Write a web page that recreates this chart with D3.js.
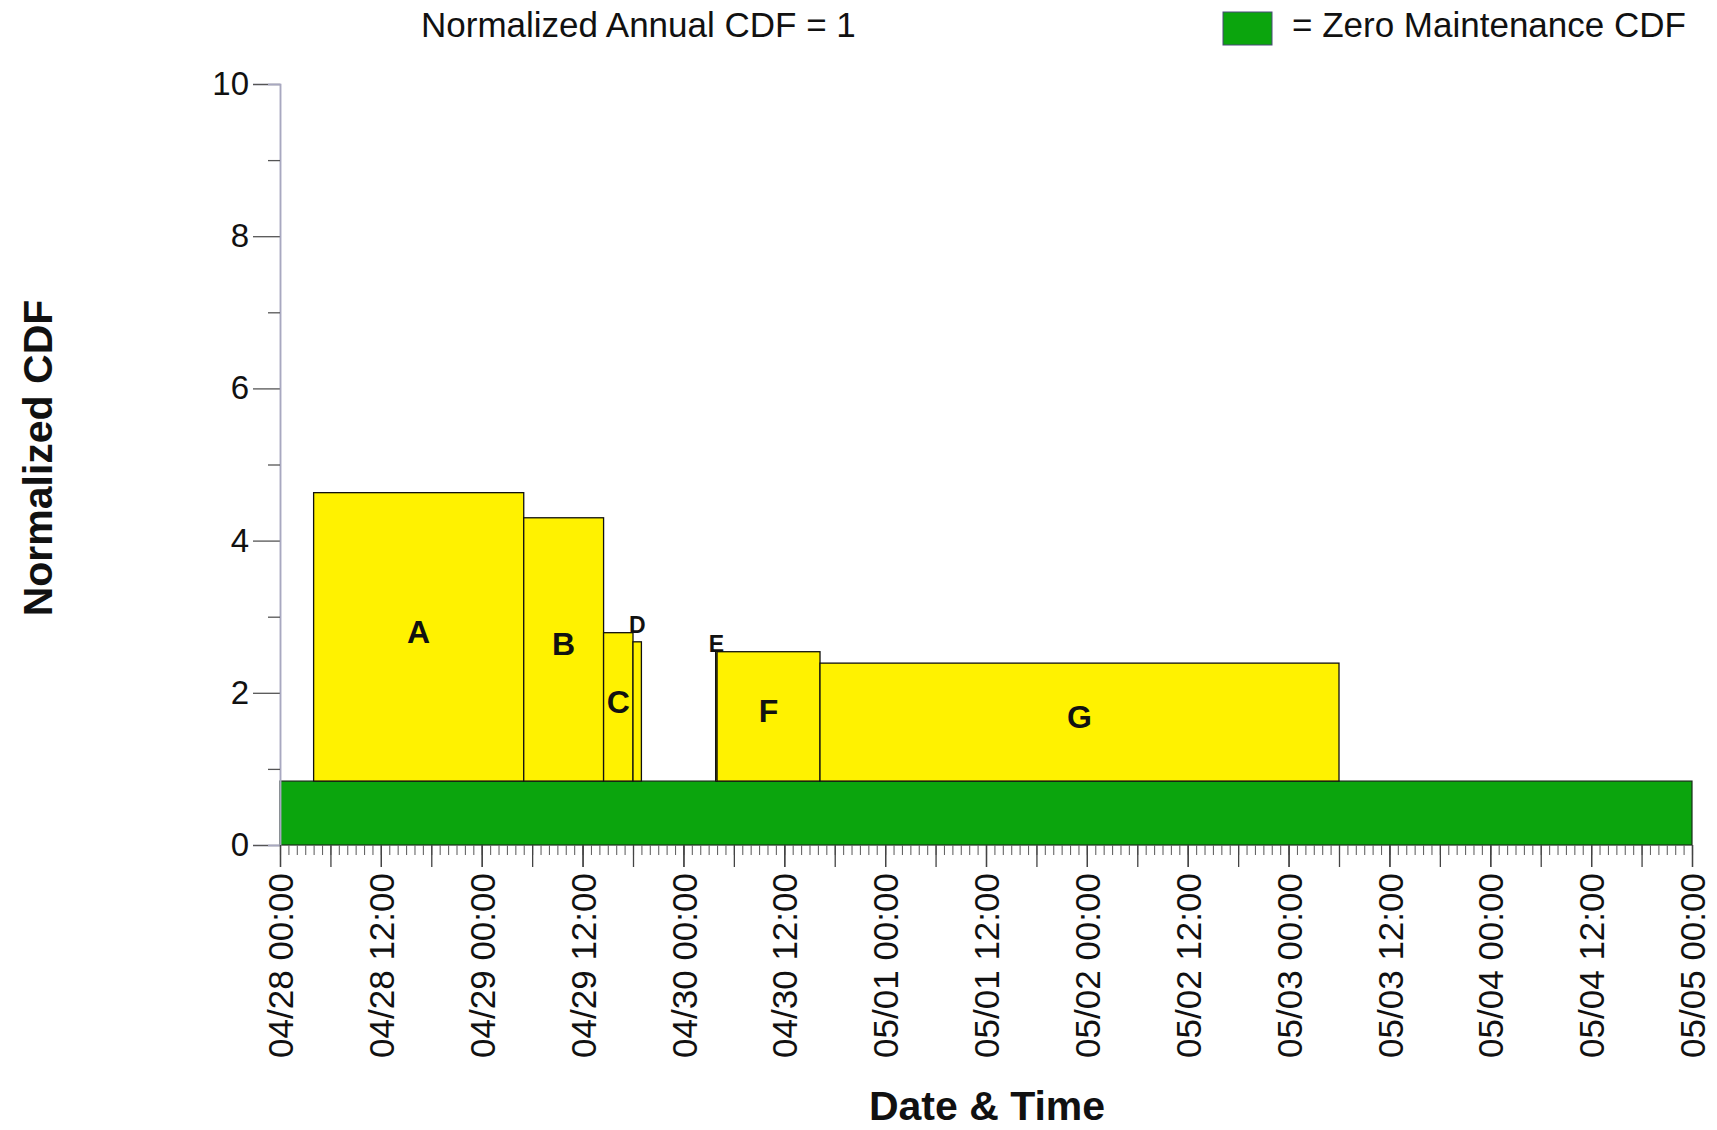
<!DOCTYPE html>
<html>
<head>
<meta charset="utf-8">
<script src="https://cdn.jsdelivr.net/npm/d3@7"></script>
<style>
  html, body { margin: 0; padding: 0; background: #fff; }
  svg { display: block; font-family: "Liberation Sans", Arial, sans-serif; }
</style>
</head>
<body>
<svg id="chart" width="1717" height="1130"></svg>
<script>
// ---------- data ----------
const chartTitle = "Normalized Annual CDF = 1";
const legendLabel = "= Zero Maintenance CDF";
const yTitle = "Normalized CDF";
const xTitle = "Date & Time";

const domainStart = "04/28 00:00";
const domainEnd = "05/05 00:00";

const barLabels = ["A", "B", "C", "D", "E", "F", "G"];
const barStarts = ["04/28 04:00", "04/29 05:00", "04/29 14:30", "04/29 18:00", "04/30 03:50", "04/30 04:00", "04/30 16:15"];
const barEnds   = ["04/29 05:00", "04/29 14:30", "04/29 18:00", "04/29 19:00", "04/30 04:00", "04/30 16:15", "05/03 06:00"];
const barValues = [4.63, 4.30, 2.79, 2.67, 2.54, 2.54, 2.39];

const zeroMaintenanceCDF = 0.84;

const yMajorTicks = [0, 2, 4, 6, 8, 10];
const yMinorTicks = [1, 3, 5, 7, 9];

// ---------- setup ----------
const parse = s => d3.utcParse("%Y/%m/%d %H:%M")("2000/" + s);
const bars = barLabels.map((l, i) => ({
  label: l, start: parse(barStarts[i]), end: parse(barEnds[i]), value: barValues[i]
}));

const svg = d3.select("#chart");
const plotLeft = 280, plotRight = 1692, plotTop = 84, plotBottom = 845;

const x = d3.scaleUtc().domain([parse(domainStart), parse(domainEnd)]).range([plotLeft, plotRight]);
const y = d3.scaleLinear().domain([0, 10]).range([plotBottom, plotTop]);

const GREEN = "#0ba50d";
const YELLOW = "#fff200";

// ---------- green zero-maintenance band ----------
svg.append("rect")
  .attr("x", x(parse(domainStart)))
  .attr("y", y(zeroMaintenanceCDF))
  .attr("width", x(parse(domainEnd)) - x(parse(domainStart)))
  .attr("height", y(0) - y(zeroMaintenanceCDF))
  .attr("fill", GREEN)
  .attr("stroke", "#1a2a1a")
  .attr("stroke-width", 1.2);

// ---------- yellow bars ----------
svg.append("g").selectAll("rect").data(bars).join("rect")
  .attr("x", d => x(d.start))
  .attr("y", d => y(d.value))
  .attr("width", d => Math.max(1, x(d.end) - x(d.start)))
  .attr("height", d => y(zeroMaintenanceCDF) - y(d.value))
  .attr("fill", YELLOW)
  .attr("stroke", "#111")
  .attr("stroke-width", 1.3);

// ---------- bar labels ----------
const labG = svg.append("g").attr("font-weight", "bold").attr("fill", "#111");
bars.forEach((d, i) => {
  const w = x(d.end) - x(d.start);
  const cx = (x(d.start) + x(d.end)) / 2;
  if (w >= 20) {
    const mid = (y(d.value) + y(zeroMaintenanceCDF)) / 2;
    labG.append("text")
      .attr("x", cx).attr("y", mid - 5)
      .attr("text-anchor", "middle").attr("dominant-baseline", "central")
      .attr("font-size", 32).text(d.label);
  } else {
    // narrow bar: label placed above, at top of the tallest touching neighbour
    let v = d.value;
    bars.forEach((o, j) => {
      if (j !== i && (+o.end === +d.start || +o.start === +d.end)) v = Math.max(v, o.value);
    });
    labG.append("text")
      .attr("x", cx).attr("y", y(v))
      .attr("text-anchor", "middle")
      .attr("font-size", 23).text(d.label);
  }
});

// ---------- y axis ----------
const yAxisG = svg.append("g").attr("transform", `translate(${plotLeft},0)`);
yAxisG.call(d3.axisLeft(y).tickValues(yMajorTicks).tickSize(27).tickPadding(4).tickFormat(d3.format("d")));
const yMinorG = svg.append("g").attr("transform", `translate(${plotLeft},0)`);
yMinorG.call(d3.axisLeft(y).tickValues(yMinorTicks).tickSize(12).tickFormat(""));
[yAxisG, yMinorG].forEach(g => {
  g.select(".domain").attr("stroke", "#a8a8c0").attr("stroke-width", 1.5);
  g.selectAll(".tick line").attr("stroke", "#555").attr("stroke-width", 1.3);
});
yAxisG.selectAll(".tick text")
  .attr("font-size", 33).attr("fill", "#111")
  .attr("font-family", "'Liberation Sans', Arial, sans-serif");

// ---------- x axis ----------
const xHourG = svg.append("g").attr("transform", `translate(0,${plotBottom})`);
xHourG.call(d3.axisBottom(x).ticks(d3.utcHour.every(1)).tickSize(10).tickFormat(""));
const x6G = svg.append("g").attr("transform", `translate(0,${plotBottom})`);
x6G.call(d3.axisBottom(x).ticks(d3.utcHour.every(6)).tickSize(22).tickFormat(""));
const xAxisG = svg.append("g").attr("transform", `translate(0,${plotBottom})`);
xAxisG.call(d3.axisBottom(x).ticks(d3.utcHour.every(12)).tickSize(22).tickFormat(d3.utcFormat("%m/%d %H:%M")));
[xHourG, x6G, xAxisG].forEach(g => {
  g.select(".domain").remove();
  g.selectAll(".tick line").attr("stroke", "#444").attr("stroke-width", 1.3);
});
xHourG.selectAll(".tick line").attr("stroke", "#666").attr("stroke-width", 1.1);
xAxisG.selectAll(".tick text")
  .attr("transform", "rotate(-90)")
  .attr("text-anchor", "end")
  .attr("x", -28).attr("y", 0).attr("dy", "0.36em")
  .attr("font-size", 35).attr("fill", "#111")
  .attr("font-family", "'Liberation Sans', Arial, sans-serif");

// ---------- titles ----------
svg.append("text")
  .attr("x", 421).attr("y", 37)
  .attr("font-size", 35).attr("fill", "#111")
  .text(chartTitle);

svg.append("rect")
  .attr("x", 1223).attr("y", 12).attr("width", 49).attr("height", 33)
  .attr("fill", GREEN).attr("stroke", "#4a4a7a").attr("stroke-width", 1);
svg.append("text")
  .attr("x", 1292).attr("y", 37)
  .attr("font-size", 35).attr("fill", "#111")
  .text(legendLabel);

svg.append("text")
  .attr("transform", "translate(52,458) rotate(-90)")
  .attr("text-anchor", "middle")
  .attr("font-size", 41).attr("font-weight", "bold").attr("fill", "#111")
  .text(yTitle);

svg.append("text")
  .attr("x", 987).attr("y", 1120)
  .attr("text-anchor", "middle")
  .attr("font-size", 41).attr("font-weight", "bold").attr("fill", "#111")
  .text(xTitle);
</script>
</body>
</html>
